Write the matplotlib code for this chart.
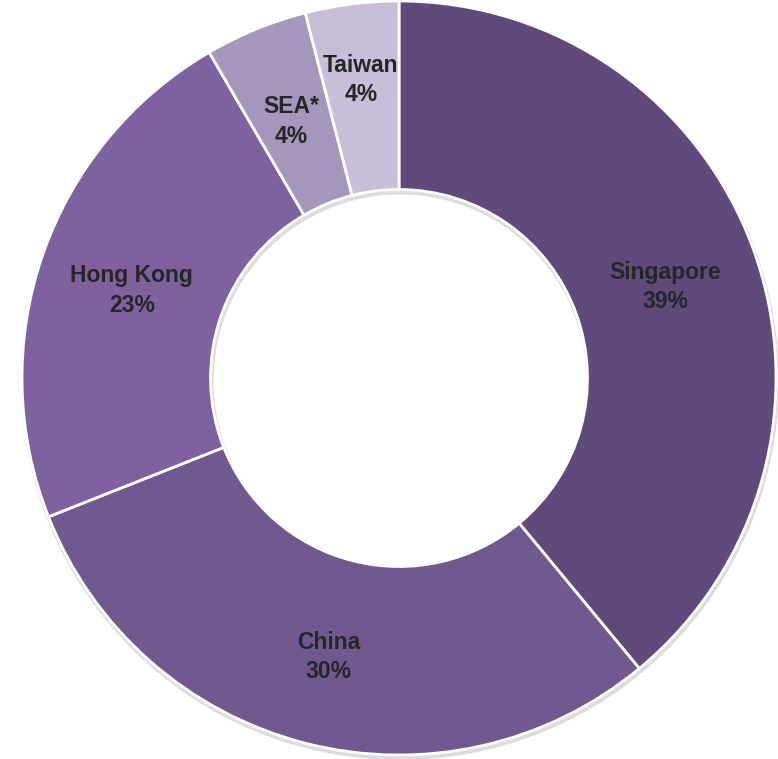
import numpy as np
import matplotlib
matplotlib.use("Agg")
from matplotlib import pyplot as plt

# regions and their share (%)
regions = ["Singapore", "China", "Hong Kong", "SEA*", "Taiwan"]
shares = [39.0, 30.0, 22.6, 4.4, 4.0]
share_labels = ["39%", "30%", "23%", "4%", "4%"]
colors = ["#5f4a7b", "#70598e", "#7e62a0", "#a596bc", "#c8bed8"]

W, H = 778, 759
fig = plt.figure(figsize=(W / 100, H / 100), dpi=100)
ax = fig.add_axes([0, 0, 1, 1])

cx, cy = 399, H - 378
R = 377

# faint shadow under the ring
ax.pie([1], colors=["#dcdcdc"], radius=R + 2, center=(cx + 1, cy - 3), frame=True,
       wedgeprops=dict(width=R * 0.5 + 4, linewidth=0))
wedges, _ = ax.pie(shares, colors=colors, startangle=90, counterclock=False,
                   radius=R, center=(cx, cy), frame=True,
                   wedgeprops=dict(width=R * 0.5, edgecolor="white", linewidth=2))
ax.set_xlim(0, W)
ax.set_ylim(0, H)
ax.axis("off")

fam = ["Liberation Sans Narrow", "Liberation Sans", "DejaVu Sans"]
for i, w in enumerate(wedges):
    mid = np.deg2rad((w.theta1 + w.theta2) / 2)
    rr = R * (0.81 if regions[i] == "Taiwan" else 0.75)
    x = cx + rr * np.cos(mid)
    y = cy + rr * np.sin(mid) - 5
    ax.text(x, y, regions[i] + "\n" + share_labels[i], ha="center", va="center",
            fontsize=16.5, fontweight="bold", color="#262626", family=fam,
            linespacing=1.35)

fig.savefig("out.png", dpi=100)
